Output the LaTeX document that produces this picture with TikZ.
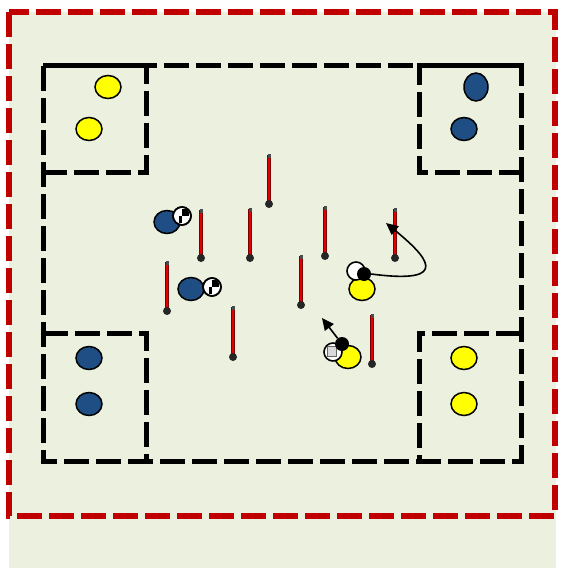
\documentclass[tikz,border=0pt]{standalone}
\usetikzlibrary{shapes.geometric,arrows.meta}
\definecolor{fieldgreen}{HTML}{EBF1DE}
\definecolor{borderred}{HTML}{C00000}
\definecolor{teamblue}{HTML}{1F4E85}
\definecolor{teamyellow}{HTML}{FFFF00}
\definecolor{polered}{HTML}{E00000}
\definecolor{poledark}{HTML}{7A0000}
\tikzset{
  reddash/.style={draw=borderred,line width=6pt,dash pattern=on 25pt off 7pt},
  blackdash/.style={draw=black,line width=5pt,dash pattern=on 25pt off 7pt},
  player/.style={ellipse,draw=black,line width=1.5pt,minimum width=26pt,minimum height=23pt,inner sep=0pt},
  blueplayer/.style={player,fill=teamblue},
  yellowplayer/.style={player,fill=teamyellow},
  ballnode/.style={circle,draw=black,line width=1.6pt,fill=white,minimum size=18pt,inner sep=0pt},
  dotnode/.style={circle,fill=black,minimum size=14pt,inner sep=0pt},
  runarrow/.style={draw=black,line width=1.6pt,-{Triangle[length=12pt,width=11pt]}},
}
\newcommand{\polemark}[3]{%
  \draw[poledark,line width=3.4pt] (#1,#2) -- (#1,#3);
  \draw[polered,line width=1.8pt] (#1,#2+1) -- (#1,#3-1);
  \fill[black!85] (#1,#3) circle (4pt);
  \fill[black!70] (#1-1.5,#2-1) rectangle (#1+1.5,#2+3);
}
\newcommand{\chessball}[3]{%
  \node[ballnode] (#1) at (#2,#3) {};
  \begin{scope}
    \clip (#2,#3) circle (8.2pt);
    \fill[black] (#2,#3) rectangle (#2+7,#3-7);
    \fill[black] (#2,#3) rectangle (#2-3,#3+7);
  \end{scope}
  \draw[black,line width=1.6pt] (#2,#3) circle (9pt);
}
\begin{document}
\begin{tikzpicture}[x=1pt,y=-1pt]
\useasboundingbox (0,0) rectangle (562,572);
\fill[white] (0,0) rectangle (562,572);
\fill[fieldgreen] (9,12) rectangle (556,568);
% red boundary
\draw[reddash] (9,12) rectangle (555,516);
% black structure
\draw[blackdash] (43,66) rectangle (521,461);
\draw[blackdash] (43,66) -- (146,66) -- (146,172) -- (43,172);
\draw[blackdash] (521,66) -- (419,66) -- (419,172) -- (521,172);
\draw[blackdash] (43,333) -- (146,333) -- (146,461);
\draw[blackdash] (521,333) -- (419,333) -- (419,461);
% corner players
\node[yellowplayer] (y1) at (108,87) {};
\node[yellowplayer] (y2) at (89,129) {};
\node[blueplayer,minimum width=24pt,minimum height=28pt] (b1) at (476,87) {};
\node[blueplayer] (b2) at (464,129) {};
\node[blueplayer] (b3) at (89,358) {};
\node[blueplayer] (b4) at (89,404) {};
\node[yellowplayer] (y3) at (464,358) {};
\node[yellowplayer] (y4) at (464,404) {};
% poles
\polemark{269}{155}{204}
\polemark{201}{210}{258}
\polemark{250}{209}{258}
\polemark{325}{207}{256}
\polemark{395}{209}{258}
\polemark{167}{262}{311}
\polemark{301}{256}{305}
\polemark{233}{307}{357}
\polemark{372}{315}{364}
% blue players with balls
\node[blueplayer] (bp1) at (167,222) {};
\chessball{ball1}{182}{216}
\node[blueplayer] (bp2) at (191,289) {};
\chessball{ball2}{212}{287}
% yellow players with balls
\node[yellowplayer] (yp1) at (362,289) {};
\node[ballnode] (ball3) at (356,271) {};
\node[dotnode] (d1) at (364,274) {};
\node[yellowplayer] (yp2) at (348,357) {};
\node[ballnode] (ball4) at (333,352) {};
\fill[black!15,draw=black!60,line width=0.8pt] (327,346) rectangle (336,356);
\node[dotnode] (d2) at (342,344) {};
% runs
\coordinate (t1) at (386,223);
\coordinate (t2) at (322,318);
\draw[runarrow] (d1.east) .. controls (455,285) and (425,255) .. (t1);
\draw[runarrow] (d2) -- (t2);
\end{tikzpicture}
\end{document}
